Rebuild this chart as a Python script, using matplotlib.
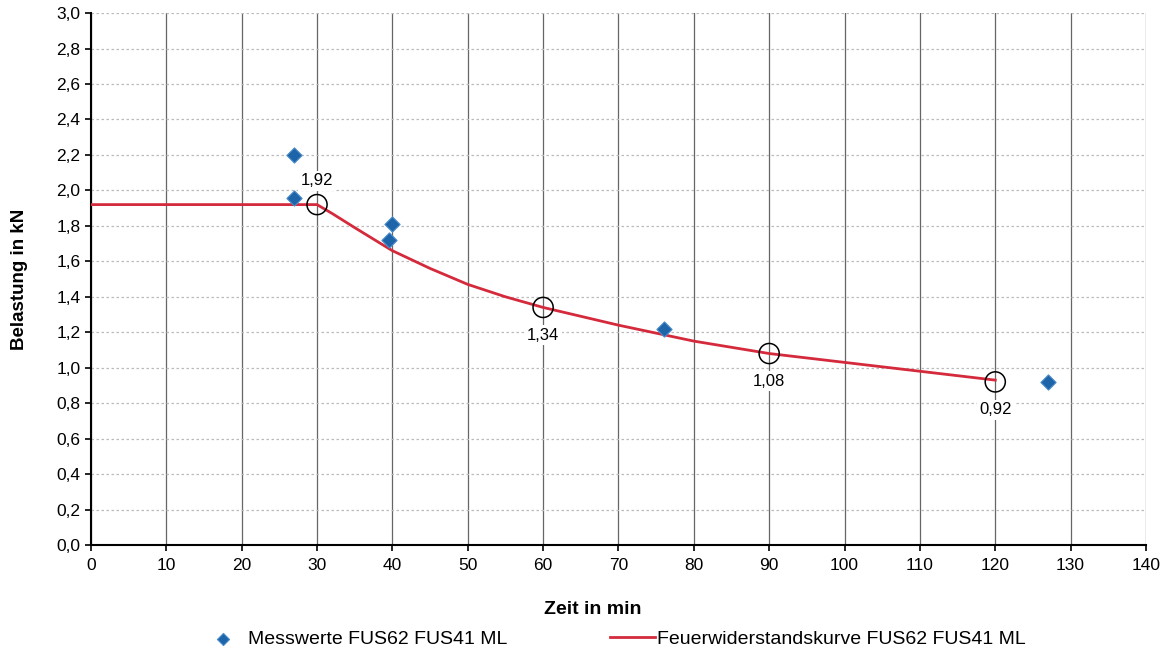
import numpy as np
import matplotlib.pyplot as plt
from matplotlib.ticker import FuncFormatter

plt.rcParams['font.family'] = ['Liberation Sans', 'DejaVu Sans']

# Messwerte (Zeit in min, Belastung in kN)
mess_t = [27, 27, 39.5, 40, 76, 127]
mess_f = [2.20, 1.96, 1.72, 1.81, 1.22, 0.92]

# Feuerwiderstandskurve
kurve_t = [0, 30, 32, 35, 40, 45, 50, 55, 60, 70, 80, 90, 100, 110, 120]
kurve_f = [1.92, 1.92, 1.87, 1.79, 1.66, 1.56, 1.47, 1.40, 1.34, 1.24, 1.15, 1.08, 1.03, 0.98, 0.93]

# markierte Punkte
mark_t = [30, 60, 90, 120]
mark_f = [1.92, 1.34, 1.08, 0.92]
mark_lbl = ['1,92', '1,34', '1,08', '0,92']
mark_pos = ['oben', 'unten', 'unten', 'unten']

fig = plt.figure(figsize=(11.75, 6.56), dpi=100)
ax = fig.add_axes([0.0774, 0.1692, 0.8979, 0.8108])

ax.plot(kurve_t, kurve_f, color='#D42A3C', lw=2.0, zorder=3,
        label='Feuerwiderstandskurve FUS62 FUS41 ML')
ax.scatter(mess_t, mess_f, marker='D', s=60, color='#1E64A8',
           edgecolors='#4A8CCB', linewidths=0.8, zorder=4,
           label='Messwerte FUS62 FUS41 ML')
ax.scatter(mark_t, mark_f, marker='o', s=210, facecolors='none',
           edgecolors='black', linewidths=1.1, zorder=5)

for t, f, lbl, pos in zip(mark_t, mark_f, mark_lbl, mark_pos):
    dy = 17 if pos == 'oben' else -20
    ax.annotate(lbl, (t, f), xytext=(0, dy), textcoords='offset points',
                ha='center', va='center', fontsize=12,
                bbox=dict(boxstyle='square,pad=0.15', fc='white', ec='none'),
                zorder=6)

ax.set_xlim(0, 140)
ax.set_ylim(0, 3.0)
ax.set_xticks(np.arange(0, 141, 10))
ax.set_yticks(np.arange(0, 3.01, 0.2))
ax.yaxis.set_major_formatter(FuncFormatter(lambda v, p: f'{v:.1f}'.replace('.', ',')))
ax.tick_params(labelsize=12.5, direction='out', length=4, width=1.2, color='black')
ax.tick_params(axis='x', pad=5)

ax.grid(axis='x', color='#666666', lw=0.9)
ax.grid(axis='y', color='#BBBBBB', lw=0.9, ls=(0, (2, 2)))
ax.set_axisbelow(True)
for s in ['top', 'right']:
    ax.spines[s].set_visible(False)
for s in ['left', 'bottom']:
    ax.spines[s].set_linewidth(1.5)

ax.set_xlabel('Zeit in min', fontsize=14, fontweight='bold')
ax.xaxis.set_label_coords(0.476, -0.105)
ax.set_ylabel('Belastung in kN', fontsize=13.5, fontweight='bold')
ax.yaxis.set_label_coords(-0.06, 0.5)

h, l = ax.get_legend_handles_labels()
fig.legend(h[::-1], l[::-1], loc='center', bbox_to_anchor=(0.522, 0.026), ncol=2,
           frameon=False, fontsize=14, handlelength=2.3, handletextpad=0.1,
           columnspacing=5.3, scatterpoints=1, markerscale=0.8)

fig.savefig('out.png', dpi=100)
